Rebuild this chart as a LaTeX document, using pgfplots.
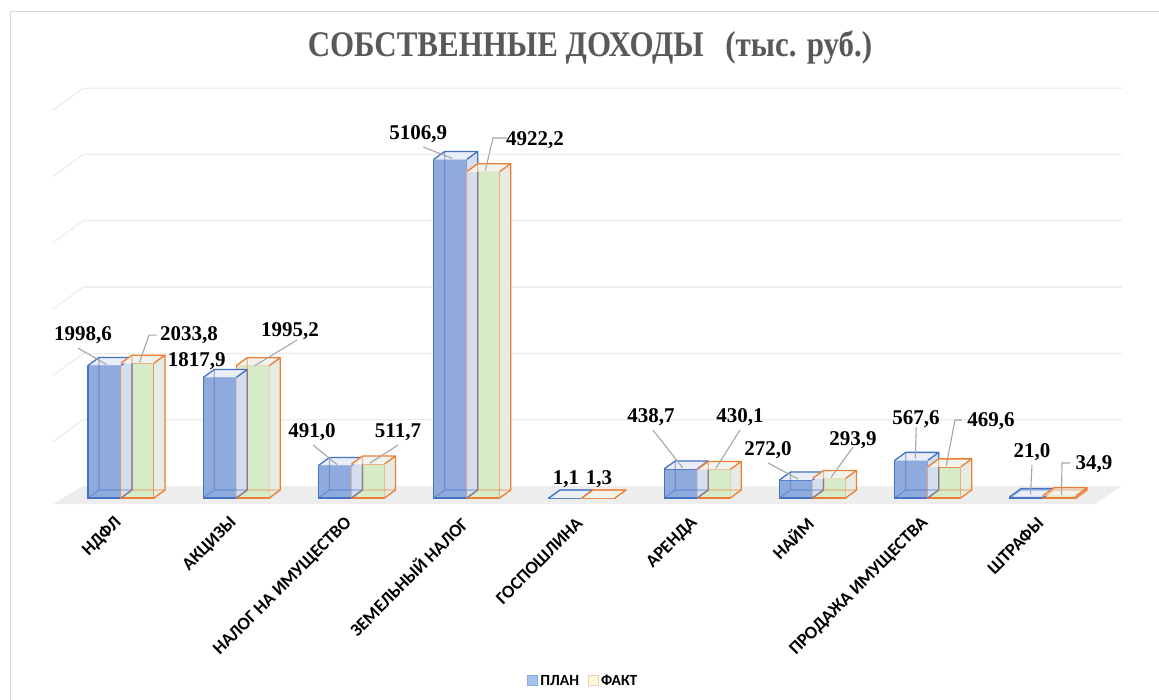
\documentclass[border=0pt]{standalone}
\usepackage{fontspec}
\setmainfont{Liberation Serif}
\newfontfamily\titlefam[FakeStretch=0.86]{Liberation Serif}
\newfontfamily\sansfam{Carlito}
\usepackage{pgfplots}
\usepackage{pgfplotstable}
\pgfplotsset{compat=1.18}

\definecolor{edgeP}{HTML}{4472C4}
\definecolor{fillP}{HTML}{8FAADC}
\definecolor{topP}{HTML}{E9EEF8}
\definecolor{sideP}{HTML}{D5DEEF}
\definecolor{edgeF}{HTML}{ED7D31}
\definecolor{fillF}{HTML}{D6ECC8}
\definecolor{topF}{HTML}{F1F4EE}
\definecolor{sideF}{HTML}{E6ECE4}
\definecolor{gridc}{HTML}{EDEDED}
\definecolor{floorc}{HTML}{EDEDED}
\definecolor{leadc}{HTML}{A6A6A6}
\definecolor{titlec}{HTML}{595959}
\definecolor{legP}{HTML}{A4C2F0}
\definecolor{legPe}{HTML}{8FAADC}
\definecolor{legF}{HTML}{FFF9DC}
\definecolor{legFe}{HTML}{F8CBAD}

\newcommand\tickfont{\sansfam\bfseries\fontsize{18}{21}\selectfont}
\newcommand\legfont{\sansfam\bfseries\fontsize{15.5}{18}\selectfont}
\newcommand\labfont{\bfseries\fontsize{21}{24}\selectfont}

% x: category, v: value, lx/ly: label centre offset (pt), s/h/e: leader line points (pt)
\pgfplotstableread{
x v lx ly sx sy hx hy ex ey
0 1998.6 -21.5 30 -26.5 17.5 -26.5 17.5 2 1
1 1817.9 -23 16.5 0 0 0 0 0 0
2 491.0 -23 33.4 -22 20.4 -22 20.4 2 1
3 5106.9 -32 25.4 -27 12.4 -27 12.4 2 1
4 1.1 0.5 19 0 0 0 0 0 0
5 438.7 -29.75 51.9 -27.75 38.9 -27.75 38.9 2 1
6 272.0 -28 30 -28 17 -28 17 2 1
7 567.6 4.75 41.4 5 33 5 33 4 2
8 21.0 5.5 44.6 5.5 31.6 5.5 31.6 4 2
}\planT

\pgfplotstableread{
x v lx ly sx sy hx hy ex ey
0 2033.8 51.5 28 19.5 28 11.5 28 2 1
1 1995.2 37.25 34.7 44.25 25.7 44.25 25.7 2 0
2 511.7 30 32 30 19 30 19 2 1
3 4922.2 51.75 31.7 23.75 33.7 9.75 33.7 2 1
4 1.3 0.5 19 0 0 0 0 0 0
5 430.1 26.25 52.5 26.25 39.5 26.25 39.5 2 1
6 293.9 24 38.5 24 31.5 24 31.5 2 1
7 469.6 46.75 45.9 17.75 46.9 10.75 46.9 2 1
8 34.9 34.5 31.7 10.5 32.7 2.5 32.7 2 1
}\factT

\newcommand\declbarmarks[4]{%
\pgfdeclareplotmark{depth#1}{%
 \fill[#3] (-16.5pt,0pt) -- (-5.5pt,8pt) -- (27.5pt,8pt) -- (16.5pt,0pt) -- cycle;
 \fill[#4] (16.5pt,0pt) -- (27.5pt,8pt) -- (27.5pt,{8pt-\h*1pt}) -- (16.5pt,{-\h*1pt}) -- cycle;
 \draw[#2,line width=1.3pt,line join=round] (-16.5pt,0pt) -- (-5.5pt,8pt) -- (27.5pt,8pt) -- (16.5pt,0pt)
   (27.5pt,8pt) -- (27.5pt,{8pt-\h*1pt}) -- (16.5pt,{-\h*1pt});
}%
\pgfdeclareplotmark{hid#1}{%
 \draw[#2,draw opacity=0.5,line width=1.1pt] (-5.5pt,8pt) -- (-5.5pt,{8pt-\h*1pt}) -- (27.5pt,{8pt-\h*1pt})
   (-5.5pt,{8pt-\h*1pt}) -- (-16.5pt,{-\h*1pt});
 \draw[leadc,line width=1.1pt] ({\sx*1pt},{\sy*1pt}) -- ({\hx*1pt},{\hy*1pt}) -- ({\ex*1pt},{\ey*1pt});
}}
\declbarmarks{P}{edgeP}{topP}{sideP}
\declbarmarks{F}{edgeF}{topF}{sideF}

\pgfplotsset{
  depthplot/.style={forget plot, only marks, mark=depth#1,
    visualization depends on={\thisrow{v}*0.0663 \as \h}},
  frontplot/.style={forget plot, ybar, bar width=33pt, bar shift=0pt, line width=1.3pt},
  hidplot/.style={forget plot, only marks, mark=hid#1,
    visualization depends on={\thisrow{v}*0.0663 \as \h},
    visualization depends on={\thisrow{lx} \as \lx},
    visualization depends on={\thisrow{ly} \as \ly},
    visualization depends on={\thisrow{sx} \as \sx},
    visualization depends on={\thisrow{sy} \as \sy},
    visualization depends on={\thisrow{hx} \as \hx},
    visualization depends on={\thisrow{hy} \as \hy},
    visualization depends on={\thisrow{ex} \as \ex},
    visualization depends on={\thisrow{ey} \as \ey},
    point meta=y,
    nodes near coords={\pgfmathprintnumber[fixed,fixed zerofill,precision=1,use comma,1000 sep={},assume math mode=true]{\pgfplotspointmeta}},
    every node near coord/.append style={anchor=center, xshift={\lx*1pt}, yshift={\ly*1pt},
      font=\labfont, inner sep=0pt, text=black}},
}

\begin{document}
\begin{tikzpicture}
\useasboundingbox (0pt,0pt) rectangle (1159pt,-700pt);
\fill[white] (0pt,0pt) rectangle (1159pt,-700pt);
\draw[black!15, line width=1pt] (10pt,-710pt) -- (10pt,-12pt) -- (1170pt,-12pt);
\node[anchor=base, text=titlec, font=\titlefam\bfseries\fontsize{36}{40}\selectfont] at (590pt,-57pt)
  {СОБСТВЕННЫЕ ДОХОДЫ\hspace{0.6em}(тыс. руб.)};
\begin{axis}[
  at={(53pt,-498pt)}, anchor=south west,
  x=115.25pt, y=0.0663pt,
  xmin=-0.59, xmax=8.45, ymin=0, ymax=6000,
  clip=false,
  axis line style={draw=none},
  major tick length=0pt,
  ytick=\empty,
  xtick={0,...,8},
  xticklabels={НДФЛ, АКЦИЗЫ, НАЛОГ НА ИМУЩЕСТВО, ЗЕМЕЛЬНЫЙ НАЛОГ, ГОСПОШЛИНА, АРЕНДА, НАЙМ, ПРОДАЖА ИМУЩЕСТВА, ШТРАФЫ},
  xticklabel style={yshift=-20pt, rotate=45, anchor=east, font=\tickfont, text=black},
  legend style={at={(0.509,-0.46)}, anchor=center, draw=none, fill=none,
    font=\legfont, /tikz/every even column/.append style={column sep=7pt}},
  legend columns=2,
  legend cell align=left,
]
\addlegendimage{legend image code/.code={\filldraw[fill=legP,draw=legPe,line width=1pt] (0pt,-5pt) rectangle (10pt,5pt);}}
\addlegendentry{ПЛАН}
\addlegendimage{legend image code/.code={\filldraw[fill=legF,draw=legFe,line width=1pt] (0pt,-5pt) rectangle (10pt,5pt);}}
\addlegendentry{ФАКТ}

\fill[floorc] ([yshift=-6pt]axis cs:-0.59,0) -- ([yshift=-6pt]axis cs:8.45,0)
  -- ([xshift=27pt,yshift=12pt]axis cs:8.45,0) -- ([xshift=30pt,yshift=12pt]axis cs:-0.59,0) -- cycle;
\pgfplotsinvokeforeach{1000,2000,3000,4000,5000,6000}{
  \draw[gridc, line width=1.3pt] ([yshift=-10pt]axis cs:-0.59,#1) -- ([xshift=30pt,yshift=12pt]axis cs:-0.59,#1)
    -- ([xshift=27pt,yshift=12pt]axis cs:8.45,#1);
}

\addplot[depthplot=P] table[x expr=\thisrow{x}-0.143167, y=v] {\planT};
\addplot[frontplot, fill=fillP, draw=edgeP] table[x expr=\thisrow{x}-0.143167, y=v] {\planT};
\addplot[hidplot=P] table[x expr=\thisrow{x}-0.143167, y=v] {\planT};

\addplot[depthplot=F] table[x expr=\thisrow{x}+0.143167, y=v] {\factT};
\addplot[frontplot, fill=fillF, draw=edgeF] table[x expr=\thisrow{x}+0.143167, y=v] {\factT};
\addplot[hidplot=F] table[x expr=\thisrow{x}+0.143167, y=v] {\factT};
\end{axis}
\end{tikzpicture}
\end{document}
